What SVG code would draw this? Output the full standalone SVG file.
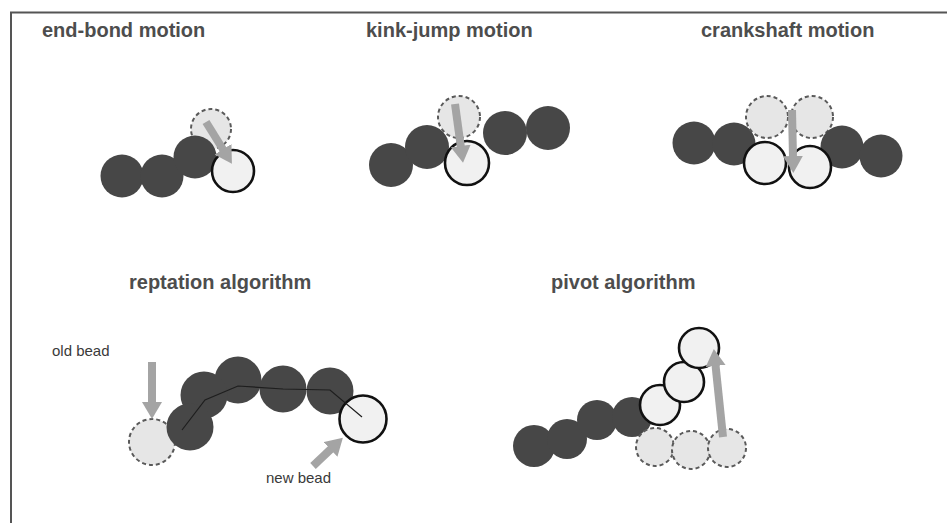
<svg xmlns="http://www.w3.org/2000/svg" width="947" height="523" viewBox="0 0 947 523">
  <style>
    .title { font-family: "Liberation Sans", Arial, sans-serif; font-weight: bold; font-size: 20px; fill: #4d4d4d; }
    .note { font-family: "Liberation Sans", Arial, sans-serif; font-size: 15px; fill: #3a3a3a; }
    .bead { fill: #474747; }
    .old { fill: #e6e6e6; stroke: #5a5a5a; stroke-width: 2; stroke-dasharray: 4 3; }
    .new { fill: #f1f1f1; stroke: #111; stroke-width: 2.6; }
    .move { stroke: #a4a4a4; stroke-width: 8; fill: none; marker-end: url(#head); }
    .chain { fill: none; stroke: #1e1e1e; stroke-width: 1.2; }
  </style>
  <defs>
    <marker id="head" markerUnits="userSpaceOnUse" markerWidth="20" markerHeight="22" refX="2" refY="10" orient="auto">
      <path d="M0,0 L17,10 L0,20 z" fill="#a4a4a4"/>
    </marker>
  </defs>

  <rect width="947" height="523" fill="#ffffff"/>
  <!-- frame -->
  <path d="M11,523 V12.5 H947" fill="none" stroke="#555" stroke-width="2"/>

  <!-- end-bond motion -->
  <g id="end-bond">
    <text class="title" x="42" y="37">end-bond motion</text>
    <circle class="bead" cx="122" cy="176" r="21.5"/>
    <circle class="bead" cx="162" cy="176" r="21.5"/>
    <circle class="old" cx="211" cy="129" r="20"/>
    <circle class="bead" cx="195" cy="157" r="21.5"/>
    <circle class="new" cx="233" cy="171" r="21"/>
  </g>

  <!-- kink-jump motion -->
  <g id="kink-jump">
    <text class="title" x="366" y="37">kink-jump motion</text>
    <circle class="bead" cx="391" cy="165" r="22"/>
    <circle class="bead" cx="427" cy="147" r="22"/>
    <circle class="old" cx="459" cy="117" r="21"/>
    <circle class="bead" cx="505" cy="133" r="22"/>
    <circle class="bead" cx="548" cy="128" r="22"/>
    <circle class="new" cx="467" cy="163" r="22"/>
  </g>

  <!-- crankshaft motion -->
  <g id="crankshaft">
    <text class="title" x="701" y="37">crankshaft motion</text>
    <circle class="bead" cx="694" cy="143" r="21.5"/>
    <circle class="bead" cx="734" cy="144" r="21.5"/>
    <circle class="old" cx="767" cy="117" r="21"/>
    <circle class="old" cx="812" cy="117" r="21"/>
    <circle class="bead" cx="842" cy="147" r="21.5"/>
    <circle class="bead" cx="881" cy="156" r="21.5"/>
    <circle class="new" cx="765" cy="163" r="21"/>
    <circle class="new" cx="810" cy="167" r="21"/>
  </g>

  <!-- reptation algorithm -->
  <g id="reptation">
    <text class="title" x="129" y="289">reptation algorithm</text>
    <text class="note" x="52" y="356">old bead</text>
    <text class="note" x="266" y="483">new bead</text>
    <circle class="old" cx="152" cy="442" r="23"/>
    <circle class="bead" cx="330" cy="391" r="23.5"/>
    <circle class="bead" cx="283" cy="389" r="23.5"/>
    <circle class="bead" cx="238" cy="380" r="23.5"/>
    <circle class="bead" cx="204" cy="395" r="23.5"/>
    <circle class="bead" cx="190" cy="427" r="23.5"/>
    <circle class="new" cx="363" cy="419" r="23.5"/>
    <polyline class="chain" points="182,430 205,400 238,386 283,389 330,390 362,417"/>
  </g>

  <!-- pivot algorithm -->
  <g id="pivot">
    <text class="title" x="551" y="289">pivot algorithm</text>
    <circle class="bead" cx="534" cy="446" r="21"/>
    <circle class="bead" cx="567" cy="439" r="20"/>
    <circle class="bead" cx="597" cy="420" r="20"/>
    <circle class="bead" cx="632" cy="417" r="20"/>
    <circle class="old" cx="655" cy="447" r="19"/>
    <circle class="old" cx="691" cy="450" r="19"/>
    <circle class="old" cx="727" cy="448" r="19"/>
    <circle class="new" cx="660" cy="405" r="20"/>
    <circle class="new" cx="684" cy="382" r="20"/>
    <circle class="new" cx="699" cy="348" r="20"/>
  </g>

  <!-- moves -->
  <g id="connectors">
    <line class="move" x1="206" y1="122" x2="224" y2="151"/>
    <line class="move" x1="455" y1="104" x2="461" y2="148"/>
    <line class="move" x1="792" y1="110" x2="793" y2="158"/>
    <line class="move" x1="152" y1="362" x2="152" y2="404"/>
    <line class="move" x1="313" y1="466" x2="332" y2="448"/>
    <line class="move" x1="723" y1="437" x2="715.4" y2="364"/>
  </g>
</svg>
